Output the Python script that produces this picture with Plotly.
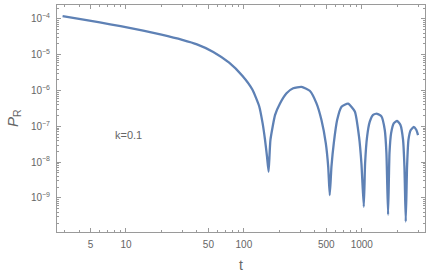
import plotly.graph_objects as go
import math

# Data (t, P_R)
t_vals = [2.9, 4, 6, 9, 14, 20, 30, 40, 55, 75, 97, 118, 135, 144, 151, 157, 162,
          168, 184, 202, 230, 262, 308, 362, 413, 455, 495, 519, 535,
          553, 579, 618, 673, 765, 873, 948, 993, 1040,
          1067, 1109, 1169, 1248, 1349, 1468, 1567, 1618, 1671,
          1718, 1772, 1866, 1991, 2128, 2239, 2300, 2360,
          2421, 2488, 2603, 2763, 2904, 3000]
p_vals = [1.2e-4, 1.0e-4, 8.0e-5, 6.3e-5, 4.7e-5, 3.63e-5, 2.6e-5, 1.95e-5, 1.2e-5, 6.0e-6, 2.6e-6, 1.07e-6, 3.6e-7, 1.25e-7, 4.3e-8, 1.45e-8, 5.4e-9,
          4.2e-8, 2.1e-7, 4.3e-7, 8.4e-7, 1.16e-6, 1.27e-6, 9.9e-7, 4.4e-7, 1.5e-7, 3.4e-8, 7.5e-9, 1.2e-9,
          7.5e-9, 3.4e-8, 1.5e-7, 3.55e-7, 4.3e-7, 2.6e-7, 5.1e-8, 9.3e-9, 5.7e-10,
          9.3e-9, 5.1e-8, 1.35e-7, 2.1e-7, 2.25e-7, 1.9e-7, 7.9e-8, 1.8e-8, 3.4e-10,
          1.8e-8, 6.4e-8, 1.22e-7, 1.42e-7, 1.1e-7, 4.2e-8, 7.5e-9, 2.2e-10,
          7.5e-9, 4.2e-8, 7.9e-8, 9.6e-8, 7.9e-8, 5.7e-8]

x_tick_vals = [5, 10, 50, 100, 500, 1000]
x_tick_text = ["5", "10", "50", "100", "500", "1000"]
y_tick_exps = [-4, -5, -6, -7, -8, -9]

x_minor = [3, 4, 6, 7, 8, 9, 20, 30, 40, 60, 70, 80, 90, 200, 300, 400, 600, 700, 800, 900, 2000, 3000]
y_minor = [k * 10.0 ** e for e in range(-10, -3) for k in range(2, 10)]

line_color = "#5E81B5"
frame_color = "#9a9a9a"
text_color = "#666666"
FONT = "Liberation Sans, Arial, sans-serif"

fig = go.Figure()
fig.add_trace(go.Scatter(x=t_vals, y=p_vals, mode="lines",
                         line=dict(color=line_color, width=2.3, shape="spline", smoothing=0.5),
                         hoverinfo="skip"))

fig.update_layout(
    width=431, height=274,
    margin=dict(l=57, r=6, t=5, b=42, autoexpand=False),
    paper_bgcolor="white", plot_bgcolor="white",
    showlegend=False,
    font=dict(family=FONT, color=text_color, size=10),
)

fig.update_xaxes(
    type="log", range=[math.log10(2.6), math.log10(3437)], automargin=False,
    showgrid=False, zeroline=False,
    showline=True, linecolor=frame_color, linewidth=1, mirror="allticks",
    ticks="inside", ticklen=4, tickcolor=frame_color, tickwidth=1,
    tickmode="array", tickvals=x_tick_vals, ticktext=x_tick_text,
    tickfont=dict(size=10, color=text_color), ticklabelstandoff=3,
    minor=dict(tickmode="array", tickvals=x_minor, ticks="inside", ticklen=2,
               tickcolor=frame_color, showgrid=False),
)
fig.update_yaxes(
    type="log", range=[-9.95, -3.61], automargin=False,
    showgrid=False, zeroline=False,
    showline=True, linecolor=frame_color, linewidth=1, mirror="allticks",
    ticks="inside", ticklen=4, tickcolor=frame_color, tickwidth=1,
    tickmode="array", tickvals=[10.0 ** e for e in y_tick_exps],
    ticktext=["10<sup>\u2212%d</sup>" % (-e) for e in y_tick_exps],
    tickfont=dict(size=10, color=text_color), ticklabelstandoff=4,
    minor=dict(tickmode="array", tickvals=y_minor, ticks="inside", ticklen=2,
               tickcolor=frame_color, showgrid=False),
)

# axis titles
fig.add_annotation(text="t", xref="paper", yref="paper", x=(241 - 57) / 368, y=-(265 - 232) / 227,
                   showarrow=False, font=dict(size=14, color=text_color, family=FONT),
                   xanchor="center", yanchor="middle")
fig.add_annotation(text="<i>P</i><sub>R</sub>", xref="paper", yref="paper", x=-(44) / 368, y=(232 - 118) / 227,
                   showarrow=False, textangle=-90, font=dict(size=15, color=text_color, family=FONT),
                   xanchor="center", yanchor="middle")

fig.add_annotation(text="k=0.1", xref="paper", yref="paper", x=(128 - 57) / 368, y=(232 - 135) / 227,
                   showarrow=False, font=dict(size=11, color=text_color, family=FONT),
                   xanchor="center", yanchor="middle")

fig.write_html("out.html", config={"displayModeBar": False, "staticPlot": True},
               post_script="document.body.style.margin='0';document.body.style.padding='0';")
